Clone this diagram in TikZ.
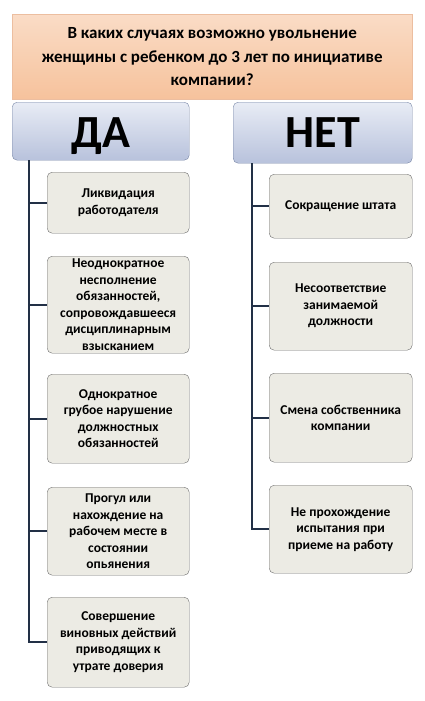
\documentclass[tikz,border=0pt]{standalone}
\usepackage{fontspec}
\setmainfont{Carlito}
\usetikzlibrary{positioning}

\definecolor{qtop}{RGB}{250,220,198}
\definecolor{qbottom}{RGB}{246,194,156}
\definecolor{qborder}{RGB}{236,190,160}
\definecolor{atop}{RGB}{232,236,245}
\definecolor{abottom}{RGB}{184,194,220}
\definecolor{aborder}{RGB}{120,134,166}
\definecolor{rfill}{RGB}{236,235,228}
\definecolor{rborder}{RGB}{110,110,110}
\definecolor{trunk}{RGB}{34,48,70}

\begin{document}
\begin{tikzpicture}[%
		x=1pt, y=-1pt,
		question/.style={
			rectangle,
			minimum width=400pt,
			minimum height=85pt,
			inner sep=0pt,
			anchor=north west,
			align=center,
			top color=qtop,
			bottom color=qbottom,
			draw=qborder,
			font=\fontsize{17}{23.5}\selectfont\bfseries
		},
		answer/.style={
			rectangle,
			rounded corners=5pt,
			inner sep=0pt,
			text depth=0pt,
			anchor=north west,
			top color=atop,
			bottom color=abottom,
			draw=aborder,
			font=\fontsize{46}{46}\selectfont\bfseries
		},
		reason/.style={
			rectangle,
			rounded corners=5pt,
			inner sep=0pt,
			anchor=north west,
			align=center,
			fill=rfill,
			draw=rborder,
			font=\fontsize{13.5}{16.5}\selectfont\bfseries
		},
		branch/.style={
			line width=2pt,
			draw=trunk
		}]

		\useasboundingbox (0,0) rectangle (425,701);

		% QUESTION AND ANSWERS

		\node (question) [question] at (12,14) {В каких случаях возможно увольнение\\ женщины с ребенком до 3 лет по инициативе\\ компании?};
		\node (yes) [answer, minimum width=177pt, minimum height=58pt] at (12,102) {\raisebox{-3pt}{ДА}};
		\node (no) [answer, minimum width=179pt, minimum height=61pt] at (233,102) {НЕТ};

		% YES BOXES

		\node (y1) [reason, minimum width=142pt, minimum height=61pt] at (47,172) {Ликвидация\\ работодателя};
		\node (y2) [reason, minimum width=142pt, minimum height=97pt] at (47,256) {Неоднократное\\ несполнение\\ обязанностей,\\ сопровождавшееся\\ дисциплинарным\\ взысканием};
		\node (y3) [reason, minimum width=142pt, minimum height=89pt] at (47,374) {Однократное\\ грубое нарушение\\ должностных\\ обязанностей};
		\node (y4) [reason, minimum width=142pt, minimum height=88pt] at (47,487) {Прогул или\\ нахождение на\\ рабочем месте в\\ состоянии\\ опьянения};
		\node (y5) [reason, minimum width=142pt, minimum height=90pt] at (47,597) {Совершение\\ виновных действий\\ приводящих к\\ утрате доверия};

		% NO BOXES

		\node (n1) [reason, minimum width=143pt, minimum height=64pt] at (269,174) {Сокращение штата};
		\node (n2) [reason, minimum width=143pt, minimum height=88pt] at (269,262) {Несоответствие\\ занимаемой\\ должности};
		\node (n3) [reason, minimum width=143pt, minimum height=89pt] at (269,373) {Смена собственника\\ компании};
		\node (n4) [reason, minimum width=143pt, minimum height=88pt] at (269,485) {Не прохождение\\ испытания при\\ приеме на работу};

		% LINES

		\coordinate (yesroot) at (29,160);
		\coordinate (noroot) at (252,163);

		\draw[branch] (yesroot) |- (y5.west);
		\draw[branch] (yesroot |- y1.west) -- (y1.west);
		\draw[branch] (yesroot |- y2.west) -- (y2.west);
		\draw[branch] (yesroot |- y3.west) -- (y3.west);
		\draw[branch] (yesroot |- y4.west) -- (y4.west);

		\draw[branch] (noroot) |- (n4.west);
		\draw[branch] (noroot |- n1.west) -- (n1.west);
		\draw[branch] (noroot |- n2.west) -- (n2.west);
		\draw[branch] (noroot |- n3.west) -- (n3.west);
\end{tikzpicture}
\end{document}
